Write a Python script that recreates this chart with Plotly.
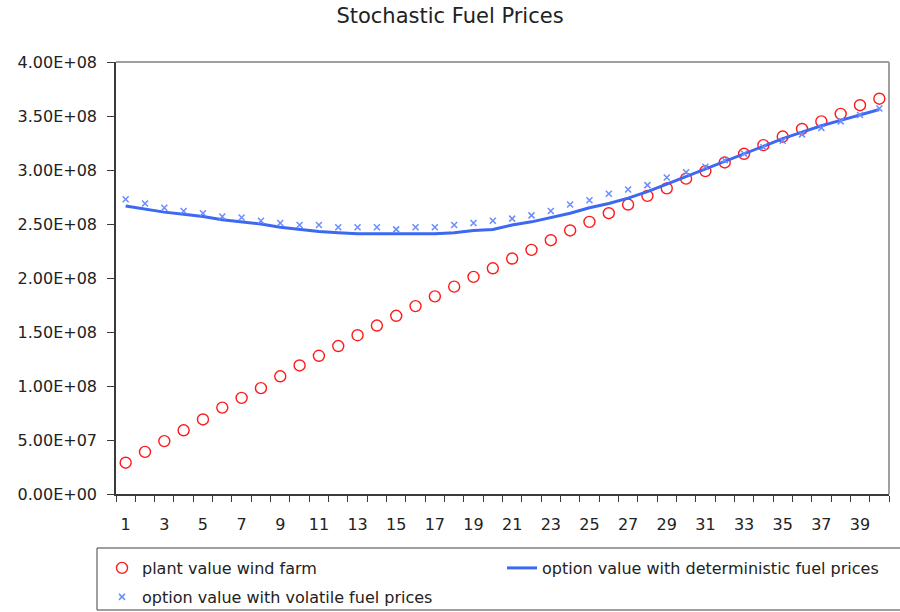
import plotly.graph_objects as go

# jaren 1..40
jaren = list(range(1, 41))

# plant value wind farm (rode cirkels)
plant_value = [
    2.9e7, 3.9e7, 4.9e7, 5.9e7, 6.9e7, 8.0e7, 8.9e7, 9.8e7, 1.09e8, 1.19e8,
    1.28e8, 1.37e8, 1.47e8, 1.56e8, 1.65e8, 1.74e8, 1.83e8, 1.92e8, 2.01e8, 2.09e8,
    2.18e8, 2.26e8, 2.35e8, 2.44e8, 2.52e8, 2.60e8, 2.68e8, 2.76e8, 2.83e8, 2.92e8,
    2.99e8, 3.07e8, 3.15e8, 3.23e8, 3.31e8, 3.38e8, 3.45e8, 3.52e8, 3.60e8, 3.66e8,
]

# option value, deterministische brandstofprijzen (lijn)
optie_det = [
    2.667e8, 2.64e8, 2.61e8, 2.59e8, 2.57e8, 2.54e8, 2.52e8, 2.50e8, 2.47e8, 2.45e8,
    2.43e8, 2.42e8, 2.41e8, 2.41e8, 2.41e8, 2.41e8, 2.41e8, 2.42e8, 2.44e8, 2.45e8,
    2.49e8, 2.52e8, 2.56e8, 2.60e8, 2.65e8, 2.69e8, 2.74e8, 2.80e8, 2.87e8, 2.94e8,
    3.01e8, 3.08e8, 3.15e8, 3.22e8, 3.29e8, 3.35e8, 3.41e8, 3.46e8, 3.51e8, 3.56e8,
]

# option value, volatiele brandstofprijzen (kruisjes)
optie_vol = [
    2.73e8, 2.69e8, 2.65e8, 2.62e8, 2.60e8, 2.57e8, 2.56e8, 2.53e8, 2.51e8, 2.49e8,
    2.49e8, 2.47e8, 2.47e8, 2.47e8, 2.45e8, 2.47e8, 2.47e8, 2.49e8, 2.51e8, 2.53e8,
    2.55e8, 2.58e8, 2.62e8, 2.68e8, 2.72e8, 2.78e8, 2.82e8, 2.86e8, 2.93e8, 2.98e8,
    3.03e8, 3.09e8, 3.15e8, 3.21e8, 3.27e8, 3.33e8, 3.39e8, 3.45e8, 3.51e8, 3.57e8,
]

y_ticks = [0, 5e7, 1e8, 1.5e8, 2e8, 2.5e8, 3e8, 3.5e8, 4e8]
y_labels = [f"{v:.2E}" for v in y_ticks]
x_labels = list(range(1, 41, 2))

FONT = "DejaVu Sans, Verdana, sans-serif"
AS = "#3a3a3a"
TXT = "#222222"

# plot-gebied in pixels (voor paper-coordinaten van legenda en kader)
L, R, T, B = 116, 889, 62, 494
PW, PH = R - L, B - T


def px(x):
    return (x - L) / PW


def py(y):
    return (B - y) / PH


fig = go.Figure()

fig.add_trace(
    go.Scatter(
        x=jaren,
        y=plant_value,
        mode="markers",
        name="plant value wind farm",
        marker=dict(symbol="circle-open", size=11, color="#ff1a1a", line=dict(width=1.4)),
        legend="legend",
    )
)

fig.add_trace(
    go.Scatter(
        x=jaren,
        y=optie_det,
        mode="lines",
        name="option value with deterministic fuel prices",
        line=dict(color="#3d68f2", width=3),
        legend="legend",
    )
)

fig.add_trace(
    go.Scatter(
        x=jaren,
        y=optie_vol,
        mode="markers",
        name="option value with volatile fuel prices",
        marker=dict(symbol="x-thin-open", size=6, color="#6a8cff", line=dict(width=1.5)),
        legend="legend2",
    )
)

leg_common = dict(
    orientation="h",
    xanchor="left",
    yanchor="middle",
    bgcolor="rgba(0,0,0,0)",
    borderwidth=0,
    font=dict(family=FONT, size=16, color=TXT),
)

fig.update_layout(
    width=900,
    height=612,
    margin=dict(l=L, r=900 - R, t=T, b=612 - B, autoexpand=False),
    paper_bgcolor="white",
    plot_bgcolor="white",
    font=dict(family=FONT, size=16, color=TXT),
    title=dict(
        text="Stochastic Fuel Prices",
        x=0.5,
        xanchor="center",
        y=1 - 16 / 612,
        yanchor="middle",
        font=dict(size=21, color=TXT),
    ),
    xaxis=dict(
        range=[0.5, 40.5],
        tickvals=x_labels,
        ticktext=[str(v) for v in x_labels],
        ticks="outside",
        ticklen=0,
        ticklabelstandoff=15,
        showgrid=False,
        zeroline=False,
        showline=True,
        linecolor=AS,
        linewidth=1.5,
        minor=dict(ticks="outside", tick0=0.5, dtick=1, ticklen=6, tickcolor=AS, showgrid=False),
    ),
    yaxis=dict(
        range=[0, 4e8],
        tickvals=y_ticks,
        ticktext=y_labels,
        ticks="outside",
        ticklen=7,
        tickcolor=AS,
        ticklabelstandoff=7,
        showgrid=False,
        zeroline=False,
        showline=True,
        linecolor=AS,
        linewidth=1.5,
    ),
    legend=dict(leg_common, x=px(102), y=py(568), entrywidth=355),
    legend2=dict(leg_common, x=px(102), y=py(597)),
    shapes=[
        # grijze rand boven en rechts van het plotgebied
        dict(type="line", xref="paper", yref="paper", x0=0, x1=1, y0=1, y1=1,
             line=dict(color="#a0a0a0", width=2)),
        dict(type="line", xref="paper", yref="paper", x0=1, x1=1, y0=0, y1=1,
             line=dict(color="#a0a0a0", width=2)),
        # kader van de legenda
        dict(type="rect", xref="paper", yref="paper", x0=px(97), x1=px(906),
             y0=py(610), y1=py(548), line=dict(color="#404040", width=1),
             fillcolor="white", layer="above"),
    ],
)

# geen standaard body-marge, zodat de figuur precies in het venster valt
fig.write_html(
    "out.html",
    config={"displayModeBar": False},
    post_script="document.body.style.margin='0';",
)
